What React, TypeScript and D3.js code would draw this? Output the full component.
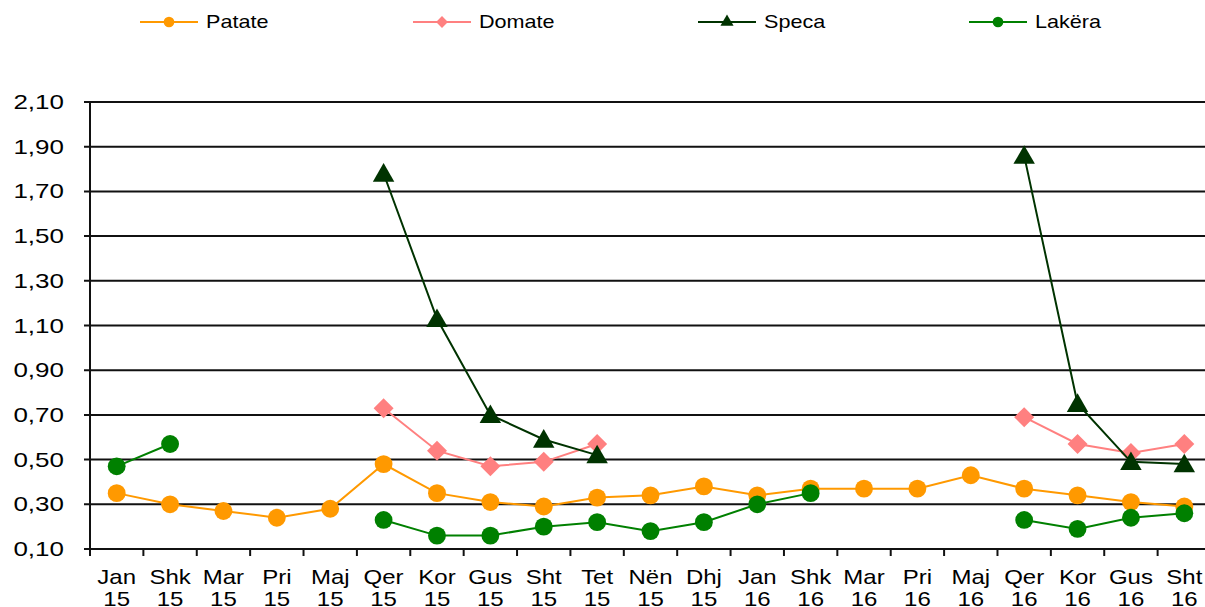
import React from "react";
import * as d3 from "d3";

const months = ["Jan", "Shk", "Mar", "Pri", "Maj", "Qer", "Kor", "Gus", "Sht", "Tet", "Nën", "Dhj", "Jan", "Shk", "Mar", "Pri", "Maj", "Qer", "Kor", "Gus", "Sht"];
const years = ["15", "15", "15", "15", "15", "15", "15", "15", "15", "15", "15", "15", "16", "16", "16", "16", "16", "16", "16", "16", "16"];

const patate: (number | null)[] = [0.35, 0.30, 0.27, 0.24, 0.28, 0.48, 0.35, 0.31, 0.29, 0.33, 0.34, 0.38, 0.34, 0.37, 0.37, 0.37, 0.43, 0.37, 0.34, 0.31, 0.29];
const domate: (number | null)[] = [null, null, null, null, null, 0.73, 0.54, 0.47, 0.49, 0.57, null, null, null, null, null, null, null, 0.69, 0.57, 0.53, 0.57];
const speca: (number | null)[] = [null, null, null, null, null, 1.78, 1.13, 0.70, 0.59, 0.52, null, null, null, null, null, null, null, 1.86, 0.75, 0.49, 0.48];
const lakera: (number | null)[] = [0.47, 0.57, null, null, null, 0.23, 0.16, 0.16, 0.20, 0.22, 0.18, 0.22, 0.30, 0.35, null, null, null, 0.23, 0.19, 0.24, 0.26];

const yTicks = [0.1, 0.3, 0.5, 0.7, 0.9, 1.1, 1.3, 1.5, 1.7, 1.9, 2.1];

const seriesNames = ["Patate", "Domate", "Speca", "Lakëra"];

const W = 1205;
const H = 607;
const FONT = "'Liberation Sans', Arial, sans-serif";

type Marker = "circle" | "diamond" | "triangle";

export default function App() {
  const keys = months.map((_, i) => String(i));
  const x = d3.scaleBand<string>().domain(keys).range([90, 1211]).padding(0);
  const y = d3.scaleLinear().domain([0.1, 2.1]).range([549, 102]);
  const cx = (i: number) => (x(String(i)) as number) + x.bandwidth() / 2;

  const series: { name: string; data: (number | null)[]; color: string; marker: Marker }[] = [
    { name: seriesNames[0], data: patate, color: "#FF9900", marker: "circle" },
    { name: seriesNames[1], data: domate, color: "#FF8080", marker: "diamond" },
    { name: seriesNames[2], data: speca, color: "#003300", marker: "triangle" },
    { name: seriesNames[3], data: lakera, color: "#008000", marker: "circle" },
  ];

  const line = d3
    .line<number | null>()
    .defined((d) => d !== null)
    .x((_, i) => cx(i))
    .y((d) => y(d as number));

  const sym = (m: Marker, size: number) => {
    const t = m === "circle" ? d3.symbolCircle : m === "diamond" ? d3.symbolSquare : d3.symbolTriangle;
    return d3.symbol().type(t).size(size)() as string;
  };
  const sizeFor = (m: Marker) => (m === "circle" ? 250 : m === "diamond" ? 200 : 200);
  const rot = (m: Marker) => (m === "diamond" ? " rotate(45)" : "");

  const legendX = [140, 413, 698, 969];

  return (
    <div style={{ position: "fixed", left: 0, top: 0 }}>
      <svg width={W} height={H} style={{ display: "block", background: "#fff" }}>
        {/* gridlines */}
        {yTicks.map((t) => (
          <line key={t} x1={84} x2={W} y1={y(t)} y2={y(t)} stroke="#111" strokeWidth={2} />
        ))}
        {/* y axis */}
        <line x1={90} x2={90} y1={y(2.1)} y2={y(0.1) + 7} stroke="#111" strokeWidth={2} />
        {/* x ticks */}
        {keys.map((k) => (
          <line key={k} x1={x(k) as number} x2={x(k) as number} y1={549} y2={556} stroke="#111" strokeWidth={2} />
        ))}
        {/* y labels */}
        {yTicks.map((t) => (
          <g key={t} transform={`translate(64,${y(t) + 7}) scale(1.3,1)`}>
            <text textAnchor="end" fontFamily={FONT} fontSize={20} fill="#000">
              {t.toFixed(2).replace(".", ",")}
            </text>
          </g>
        ))}
        {/* x labels */}
        {months.map((m, i) => (
          <g key={i} transform={`translate(${cx(i)},0) scale(1.2,1)`}>
            <text x={0} y={584} textAnchor="middle" fontFamily={FONT} fontSize={20} fill="#000">
              {m}
            </text>
            <text x={0} y={606} textAnchor="middle" fontFamily={FONT} fontSize={20} fill="#000">
              {years[i]}
            </text>
          </g>
        ))}
        {/* series */}
        {series.map((s) => (
          <g key={s.name}>
            <path d={line(s.data) as string} fill="none" stroke={s.color} strokeWidth={2} />
            {s.data.map((v, i) =>
              v === null ? null : (
                <path
                  key={i}
                  d={sym(s.marker, sizeFor(s.marker))}
                  transform={`translate(${cx(i)},${y(v) + (s.marker === "triangle" ? 2 : 0)})${rot(s.marker)}`}
                  fill={s.color}
                />
              )
            )}
          </g>
        ))}
        {/* legend */}
        {series.map((s, i) => (
          <g key={s.name} transform={`translate(${legendX[i]},22)`}>
            <line x1={0} x2={58} y1={0} y2={0} stroke={s.color} strokeWidth={2} />
            <path
              d={sym(s.marker, s.marker === "circle" ? 90 : s.marker === "diamond" ? 70 : 75)}
              transform={`translate(29,0)${rot(s.marker)}`}
              fill={s.color}
            />
            <g transform="translate(66,6) scale(1.2,1)">
              <text fontFamily={FONT} fontSize={18} fill="#000">
                {s.name}
              </text>
            </g>
          </g>
        ))}
      </svg>
    </div>
  );
}
